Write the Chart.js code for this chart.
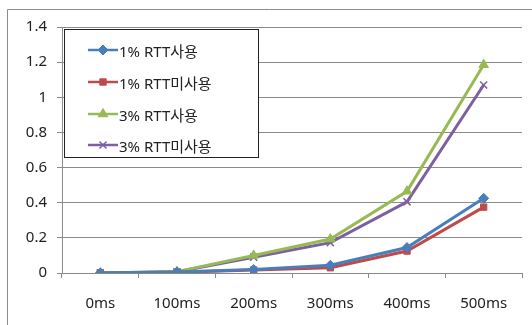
<!DOCTYPE html>
<html>
<head>
<meta charset="utf-8">
<script src="https://cdn.jsdelivr.net/npm/chart.js@4.4.0/dist/chart.umd.min.js"></script>
<style>
  html, body { margin: 0; padding: 0; background: #fff; }
  #wrap { position: relative; width: 532px; height: 325px; }
</style>
</head>
<body>
<div id="wrap"><canvas id="c" width="532" height="325"></canvas></div>
<script>
// Delay categories and measured values per configuration
const categories = ['0ms', '100ms', '200ms', '300ms', '400ms', '500ms'];
const loss1WithRtt    = [0, 0.005, 0.02, 0.044, 0.145, 0.425];
const loss1WithoutRtt = [0, 0.004, 0.017, 0.03, 0.125, 0.375];
const loss3WithRtt    = [0, 0.008, 0.1, 0.193, 0.465, 1.185];
const loss3WithoutRtt = [0, 0.007, 0.09, 0.173, 0.405, 1.07];
const yTicks = [0, 0.2, 0.4, 0.6, 0.8, 1, 1.2, 1.4];
const seriesNames = ['1% RTT사용', '1% RTT미사용', '3% RTT사용', '3% RTT미사용'];

const FONT = "'Noto Sans', 'Noto Sans CJK KR', sans-serif";
const GRID = '#8a8a8a';

function series(label, data, color, style, radius) {
  return {
    label, data,
    borderColor: color, backgroundColor: color,
    borderWidth: 3, pointStyle: style, pointRadius: radius,
    pointBorderWidth: style === 'crossRot' ? 1.5 : 1,
    pointHoverRadius: radius, tension: 0
  };
}

// Boxed legend drawn inside the plot area, plus the outer frame
const innerLegend = {
  id: 'innerLegend',
  afterDraw(chart) {
    const ctx = chart.ctx;
    ctx.save();
    // outer frame
    ctx.strokeStyle = '#8c8c8c';
    ctx.lineWidth = 1;
    ctx.beginPath();
    ctx.moveTo(7.5, 325);
    ctx.lineTo(7.5, 9.5);
    ctx.lineTo(532, 9.5);
    ctx.stroke();
    // legend box
    const bx = 64.5, by = 29.5, bw = 194, bh = 128;
    ctx.fillStyle = '#fff';
    ctx.fillRect(bx, by, bw, bh);
    ctx.strokeStyle = '#222';
    ctx.strokeRect(bx, by, bw, bh);
    const rows = [50, 82, 114, 145];
    chart.data.datasets.forEach((ds, i) => {
      const y = rows[i];
      ctx.strokeStyle = ds.borderColor;
      ctx.lineWidth = 2.5;
      ctx.beginPath();
      ctx.moveTo(88, y);
      ctx.lineTo(118, y);
      ctx.stroke();
      ctx.fillStyle = ds.borderColor;
      ctx.strokeStyle = ds.borderColor;
      ctx.lineWidth = ds.pointBorderWidth;
      Chart.helpers.drawPoint(ctx, {
        pointStyle: ds.pointStyle, radius: ds.pointRadius,
        borderWidth: ds.pointBorderWidth, rotation: 0
      }, 103, y);
      ctx.fillStyle = '#222';
      ctx.font = "15px " + FONT;
      ctx.textAlign = 'left';
      ctx.textBaseline = 'middle';
      ctx.fillText(ds.label, 119, y + 3);
    });
    ctx.restore();
  }
};

new Chart(document.getElementById('c'), {
  type: 'line',
  data: {
    labels: categories,
    datasets: [
      series(seriesNames[0], loss1WithRtt, '#4a7ebb', 'rectRot', 5),
      series(seriesNames[1], loss1WithoutRtt, '#be4b48', 'rect', 4.5),
      series(seriesNames[2], loss3WithRtt, '#98b954', 'triangle', 5.5),
      series(seriesNames[3], loss3WithoutRtt, '#7d60a0', 'crossRot', 5)
    ]
  },
  options: {
    responsive: false,
    animation: false,
    layout: { padding: { left: 0, top: 27, right: 10, bottom: 0 } },
    plugins: { legend: { display: false }, tooltip: { enabled: false } },
    scales: {
      x: {
        offset: true,
        grid: { offset: true, drawOnChartArea: false, tickLength: 5, color: GRID },
        border: { color: GRID, width: 1 },
        ticks: { color: '#222', font: { size: 15, family: FONT }, padding: 17, maxRotation: 0 },
        afterFit(s) { s.height = 52; }
      },
      y: {
        min: 0, max: 1.4,
        afterBuildTicks(s) { s.ticks = yTicks.map(v => ({ value: v })); },
        grid: { color: GRID, tickLength: 5 },
        border: { color: GRID, width: 1 },
        ticks: { color: '#222', font: { size: 15, family: FONT }, padding: 10,
                 callback: v => String(v) },
        afterFit(s) { s.width = 62; }
      }
    }
  },
  plugins: [innerLegend]
});
</script>
</body>
</html>
